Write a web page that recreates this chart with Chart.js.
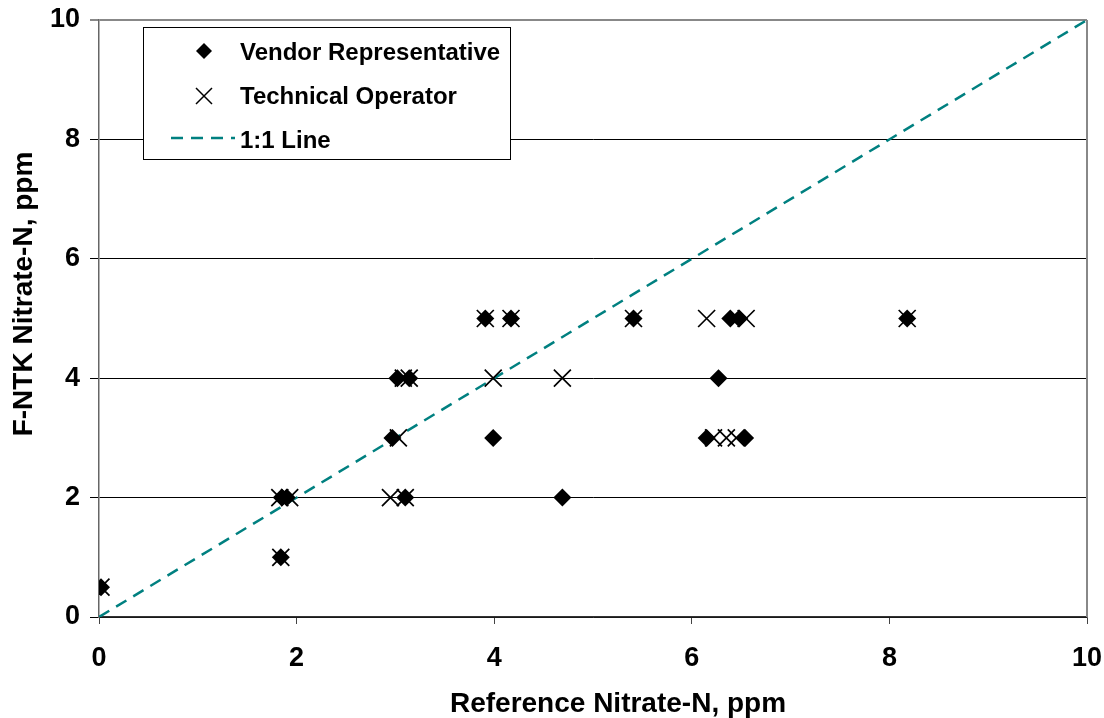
<!DOCTYPE html>
<html>
<head>
<meta charset="utf-8">
<script src="https://cdn.jsdelivr.net/npm/chart.js@4"></script>
<style>
  html, body { margin: 0; padding: 0; background: #fff; }
  canvas { display: block; }
</style>
</head>
<body>
<canvas id="grafica" width="1104" height="718"></canvas>
<script>
// reference nitrate (x) and F-NTK result (y)
var vendorX = [0.02, 1.84, 1.85, 1.90, 2.97, 3.10, 3.02, 3.14, 3.91, 4.17, 3.99, 4.69, 5.41, 6.39, 6.48, 8.18, 6.27, 6.15, 6.54];
var vendorY = [0.5, 1, 2, 2, 3, 2, 4, 4, 5, 5, 3, 2, 5, 5, 5, 5, 4, 3, 3];
var techX = [0.02, 1.84, 1.83, 1.93, 3.03, 2.95, 3.10, 3.08, 3.14, 3.91, 4.17, 3.99, 4.69, 5.41, 6.15, 6.55, 8.18, 6.22, 6.35, 6.45];
var techY = [0.5, 1, 2, 2, 3, 2, 2, 4, 4, 5, 5, 4, 4, 5, 5, 5, 5, 3, 3, 3];
var lineX = [0, 10];
var lineY = [0, 10];
var tickValues = [0, 2, 4, 6, 8, 10];

function pares(xs, ys) {
  var out = [];
  for (var i = 0; i < xs.length; i++) out.push({ x: xs[i], y: ys[i] });
  return out;
}

var fuente = "'Liberation Sans', Arial, sans-serif";
var teal = '#008080';

// frame, axis titles and the boxed legend
var extras = {
  id: 'extras',
  afterDraw: function (chart) {
    var ctx = chart.ctx;
    var a = chart.chartArea;
    ctx.save();
    // right side of plot frame
    ctx.strokeStyle = '#888';
    ctx.lineWidth = 2;
    ctx.beginPath();
    ctx.moveTo(a.right, a.top); ctx.lineTo(a.right, a.bottom);
    ctx.stroke();

    // axis titles
    ctx.fillStyle = '#000';
    ctx.font = 'bold 28px ' + fuente;
    ctx.textAlign = 'center';
    ctx.textBaseline = 'middle';
    ctx.fillText('Reference Nitrate-N, ppm', 618, 704);
    ctx.save();
    ctx.translate(24, 294);
    ctx.rotate(-Math.PI / 2);
    ctx.fillText('F-NTK Nitrate-N, ppm', 0, 0);
    ctx.restore();

    // legend
    ctx.fillStyle = '#fff';
    ctx.fillRect(143, 27, 368, 133);
    ctx.strokeStyle = '#000';
    ctx.lineWidth = 1;
    ctx.strokeRect(143.5, 27.5, 367, 132);

    ctx.fillStyle = '#000';
    ctx.font = 'bold 24px ' + fuente;
    ctx.textAlign = 'left';
    ctx.fillText('Vendor Representative', 240, 53);
    ctx.fillText('Technical Operator', 240, 97);
    ctx.fillText('1:1 Line', 240, 141);

    ctx.beginPath();
    ctx.moveTo(204, 43); ctx.lineTo(212, 51); ctx.lineTo(204, 59); ctx.lineTo(196, 51);
    ctx.closePath(); ctx.fill();

    ctx.lineWidth = 1.5;
    ctx.beginPath();
    ctx.moveTo(196, 88); ctx.lineTo(212, 104);
    ctx.moveTo(212, 88); ctx.lineTo(196, 104);
    ctx.stroke();

    ctx.strokeStyle = teal;
    ctx.lineWidth = 2.5;
    ctx.setLineDash([12, 8]);
    ctx.beginPath();
    ctx.moveTo(171, 138); ctx.lineTo(235, 138);
    ctx.stroke();
    ctx.restore();
  }
};

var chart = new Chart(document.getElementById('grafica'), {
  type: 'scatter',
  data: {
    datasets: [
      {
        label: '1:1 Line',
        type: 'line',
        data: pares(lineX, lineY),
        borderColor: teal,
        borderWidth: 2.5,
        borderDash: [12, 8],
        pointRadius: 0,
        fill: false,
        order: 3
      },
      {
        label: 'Vendor Representative',
        data: pares(vendorX, vendorY),
        pointStyle: 'rectRot',
        pointRadius: 9,
        backgroundColor: '#000',
        borderColor: '#000',
        borderWidth: 0,
        order: 2
      },
      {
        label: 'Technical Operator',
        data: pares(techX, techY),
        pointStyle: 'crossRot',
        pointRadius: 12,
        borderColor: '#000',
        borderWidth: 1.7,
        order: 1
      }
    ]
  },
  options: {
    responsive: false,
    animation: false,
    devicePixelRatio: 1,
    layout: { padding: { top: 20, right: 17, left: 0, bottom: 0 } },
    plugins: { legend: { display: false }, tooltip: { enabled: false } },
    scales: {
      x: {
        type: 'linear',
        min: 0, max: 10,
        afterBuildTicks: function (s) { s.ticks = tickValues.map(function (v) { return { value: v }; }); },
        afterFit: function (s) { s.height = 101; s.paddingLeft = 0; s.paddingRight = 0; },
        grid: { drawOnChartArea: false, drawTicks: true, tickLength: 7, color: '#444' },
        border: { color: '#333', width: 1.5 },
        ticks: { color: '#000', font: { family: fuente, size: 27, weight: 'bold' }, padding: 18, maxRotation: 0 }
      },
      y: {
        type: 'linear',
        min: 0, max: 10,
        afterBuildTicks: function (s) { s.ticks = tickValues.map(function (v) { return { value: v }; }); },
        afterFit: function (s) { s.width = 99; s.paddingTop = 0; s.paddingBottom = 0; },
        grid: {
          color: function (c) { return c.tick && c.tick.value === 10 ? '#888' : '#000'; },
          lineWidth: function (c) { return c.tick && c.tick.value === 10 ? 2 : 1; },
          drawTicks: true,
          tickLength: 9
        },
        border: { color: '#666', width: 1.5 },
        ticks: { color: '#000', font: { family: fuente, size: 27, weight: 'bold' }, padding: 10 }
      }
    }
  },
  plugins: [extras]
});
</script>
</body>
</html>
